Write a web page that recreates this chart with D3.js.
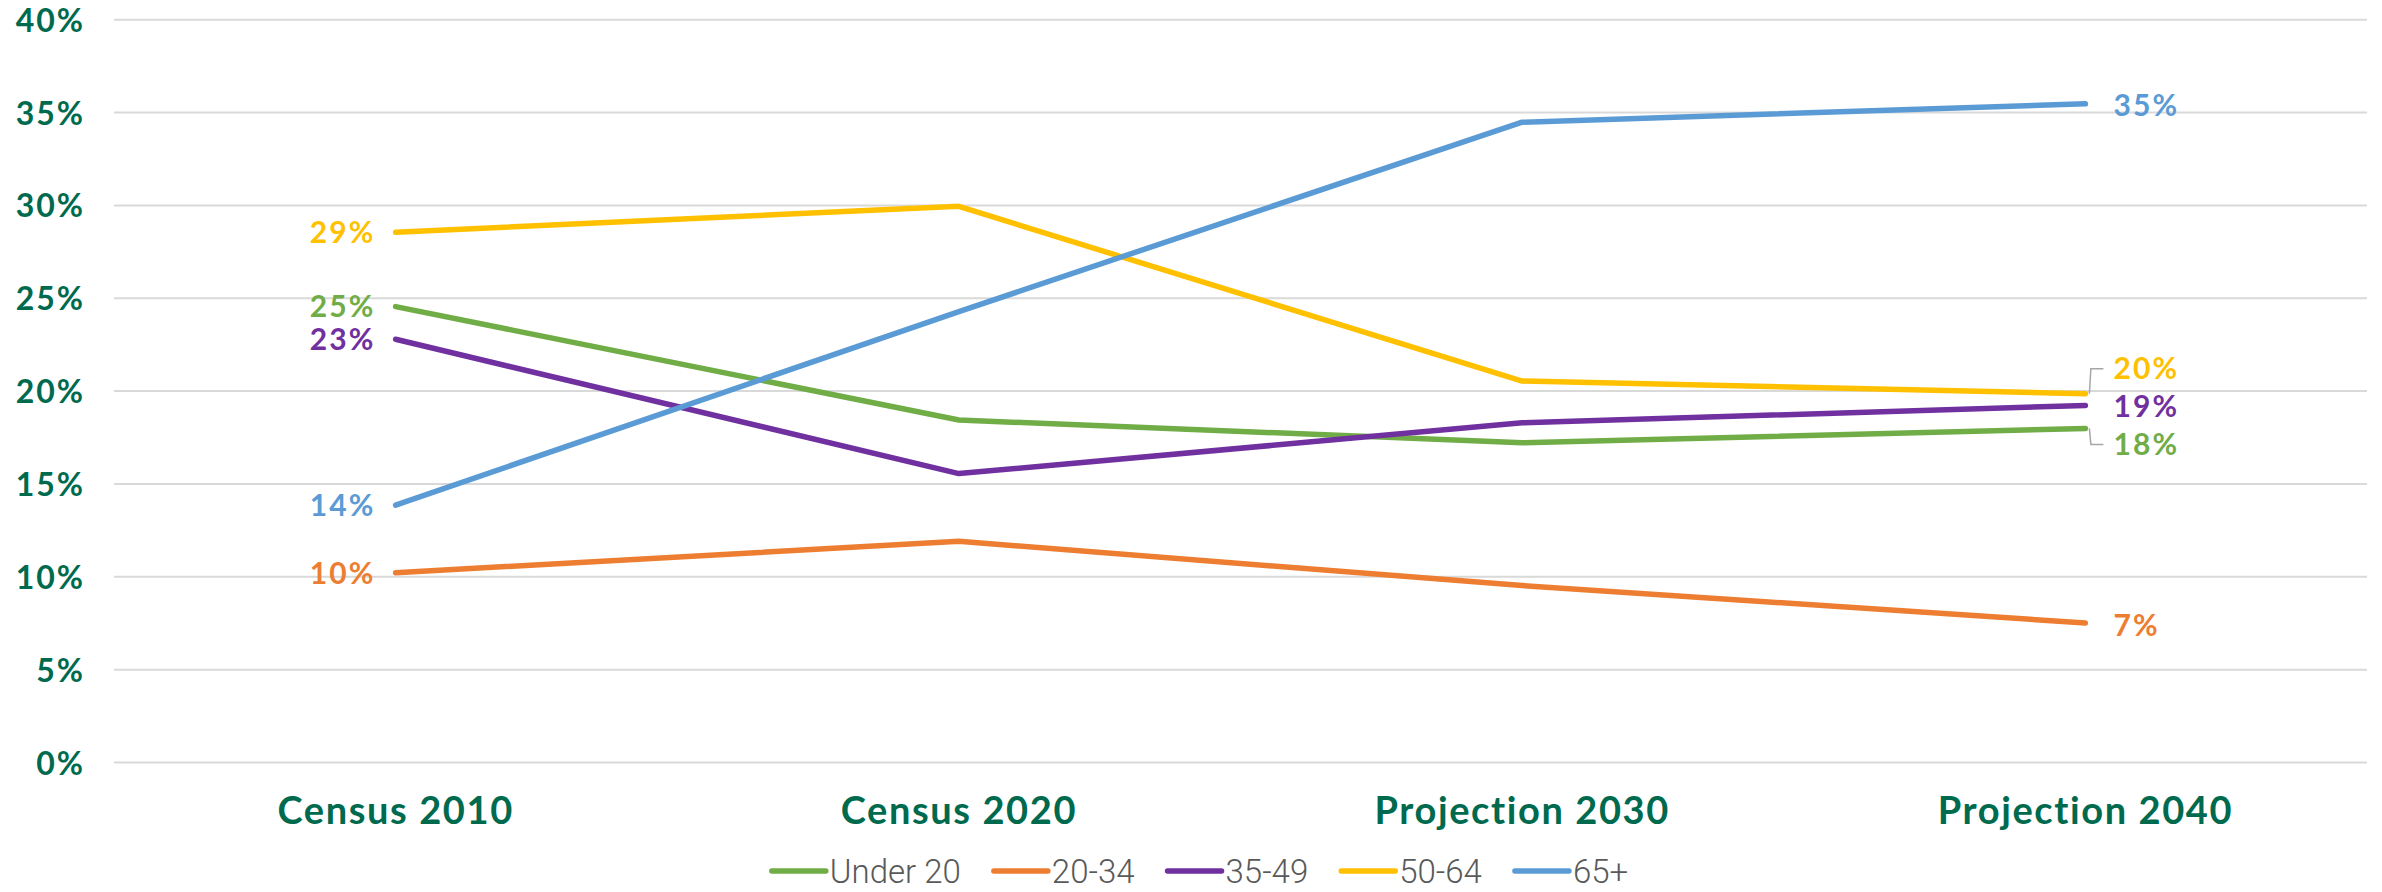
<!DOCTYPE html>
<html>
<head>
<meta charset="utf-8">
<script src="https://cdn.jsdelivr.net/npm/d3@7"></script>
<style>
  html, body { margin: 0; padding: 0; background: #fff; }
  svg { display: block; }
</style>
</head>
<body>
<svg id="chart" width="2382" height="892"></svg>
<script>
// ---- Data ----
const categories = ["Census 2010", "Census 2020", "Projection 2030", "Projection 2040"];
const seriesNames = ["Under 20", "20-34", "35-49", "50-64", "65+"];
const under20 = [0.2455, 0.1844, 0.1722, 0.1799];
const age20to34 = [0.1022, 0.1191, 0.0953, 0.0751];
const age35to49 = [0.2279, 0.1556, 0.1829, 0.1923];
const age50to64 = [0.2856, 0.2995, 0.2054, 0.1986];
const age65plus = [0.1386, 0.2428, 0.3448, 0.3547];
const yTicks = [0, 0.05, 0.10, 0.15, 0.20, 0.25, 0.30, 0.35, 0.40];
const startLabels = ["25%", "10%", "23%", "29%", "14%"];
const endLabels = ["18%", "7%", "19%", "20%", "35%"];
const colors = ["#70AD47", "#ED7D31", "#7030A0", "#FFC000", "#5B9BD5"];

const seriesValues = [under20, age20to34, age35to49, age50to64, age65plus];
const series = seriesNames.map((name, i) => ({
  name, values: seriesValues[i], color: colors[i],
  startLabel: startLabels[i], endLabel: endLabels[i]
}));

// ---- Layout ----
const svg = d3.select("#chart");
const plotLeft = 114, plotRight = 2367, plotTop = 19.7, plotBottom = 762.5;
const axisColor = "#006A4E";
const boldFont = "Lato, 'Open Sans', sans-serif";

const x = d3.scaleBand().domain(categories).range([plotLeft, plotRight]).padding(0);
const xc = c => x(c) + x.bandwidth() / 2;
const y = d3.scaleLinear().domain([0, 0.40]).range([plotBottom, plotTop]);

// Gridlines
svg.append("g").selectAll("line").data(yTicks).join("line")
  .attr("x1", plotLeft).attr("x2", plotRight)
  .attr("y1", d => y(d)).attr("y2", d => y(d))
  .attr("stroke", "#D9D9D9").attr("stroke-width", 2);

// Y axis labels
const yAxis = d3.axisLeft(y).tickValues(yTicks).tickFormat(d3.format(".0%")).tickSize(0).tickPadding(0);
const yg = svg.append("g").attr("transform", `translate(85,0)`).call(yAxis);
yg.select(".domain").remove();
yg.selectAll("text")
  .attr("x", 0).attr("dy", "0.36em")
  .attr("fill", axisColor)
  .style("font-family", boldFont).style("font-weight", 700).style("font-size", "32px")
  .style("letter-spacing", "2px");

// X axis labels
const xAxis = d3.axisBottom(x).tickSize(0).tickPadding(0);
const xg = svg.append("g").attr("transform", `translate(0,810)`).call(xAxis);
xg.select(".domain").remove();
xg.selectAll("text")
  .attr("y", 0).attr("dy", "0.36em")
  .attr("fill", axisColor)
  .style("font-family", boldFont).style("font-weight", 700).style("font-size", "38px")
  .style("letter-spacing", "1.6px");

// Lines
const line = d3.line().x((d, i) => xc(categories[i])).y(d => y(d));
svg.append("g").selectAll("path").data(series).join("path")
  .attr("d", d => line(d.values))
  .attr("fill", "none")
  .attr("stroke", d => d.color)
  .attr("stroke-width", 5.5)
  .attr("stroke-linejoin", "round")
  .attr("stroke-linecap", "round");

// Start labels (left of first point)
const first = categories[0], last = categories[categories.length - 1];
svg.append("g").selectAll("text").data(series).join("text")
  .attr("x", xc(first) - 20)
  .attr("y", d => y(d.values[0]))
  .attr("dy", "0.36em")
  .attr("text-anchor", "end")
  .attr("fill", d => d.color)
  .style("font-family", boldFont).style("font-weight", 700).style("font-size", "30px")
  .style("letter-spacing", "2.2px")
  .text(d => d.startLabel);

// End labels (right of last point), some nudged with leader lines
const endNudge = { "Under 20": 16, "50-64": -25, "35-49": 1, "20-34": 2, "65+": 1 };
const endX = xc(last) + 28;
svg.append("g").selectAll("text").data(series).join("text")
  .attr("x", endX)
  .attr("y", d => y(d.values[3]) + endNudge[d.name])
  .attr("dy", "0.36em")
  .attr("text-anchor", "start")
  .attr("fill", d => d.color)
  .style("font-family", boldFont).style("font-weight", 700).style("font-size", "30px")
  .style("letter-spacing", "2.2px")
  .text(d => d.endLabel);

// Leader lines for nudged labels
const leaders = series.filter(d => Math.abs(endNudge[d.name]) > 10);
svg.append("g").selectAll("path").data(leaders).join("path")
  .attr("d", d => {
    const px = xc(last) + 4, py = y(d.values[3]);
    const ly = py + endNudge[d.name];
    return `M${px},${py} L${px + 1.5},${ly} L${endX - 10},${ly}`;
  })
  .attr("fill", "none").attr("stroke", "#A6A6A6").attr("stroke-width", 1.5);

// Legend
const legend = svg.append("g").attr("class", "legend");
const items = legend.selectAll("g").data(series).join("g");
items.append("line")
  .attr("x1", 0).attr("x2", 54).attr("y1", 0).attr("y2", 0)
  .attr("stroke", d => d.color).attr("stroke-width", 5.5).attr("stroke-linecap", "round");
items.append("text")
  .attr("x", 58).attr("dy", "0.36em")
  .attr("fill", "#595959")
  .style("font-family", "Roboto, sans-serif").style("font-weight", 300).style("font-size", "33px")
  .text(d => d.name);
let cursor = 0;
items.each(function () {
  const w = this.getBBox().width;
  d3.select(this).attr("data-x", cursor);
  cursor += w + 33;
});
const totalW = cursor - 33;
const legendStart = 1200 - totalW / 2;
items.attr("transform", function () { return `translate(${legendStart + (+d3.select(this).attr("data-x"))},871)`; });
</script>
</body>
</html>
